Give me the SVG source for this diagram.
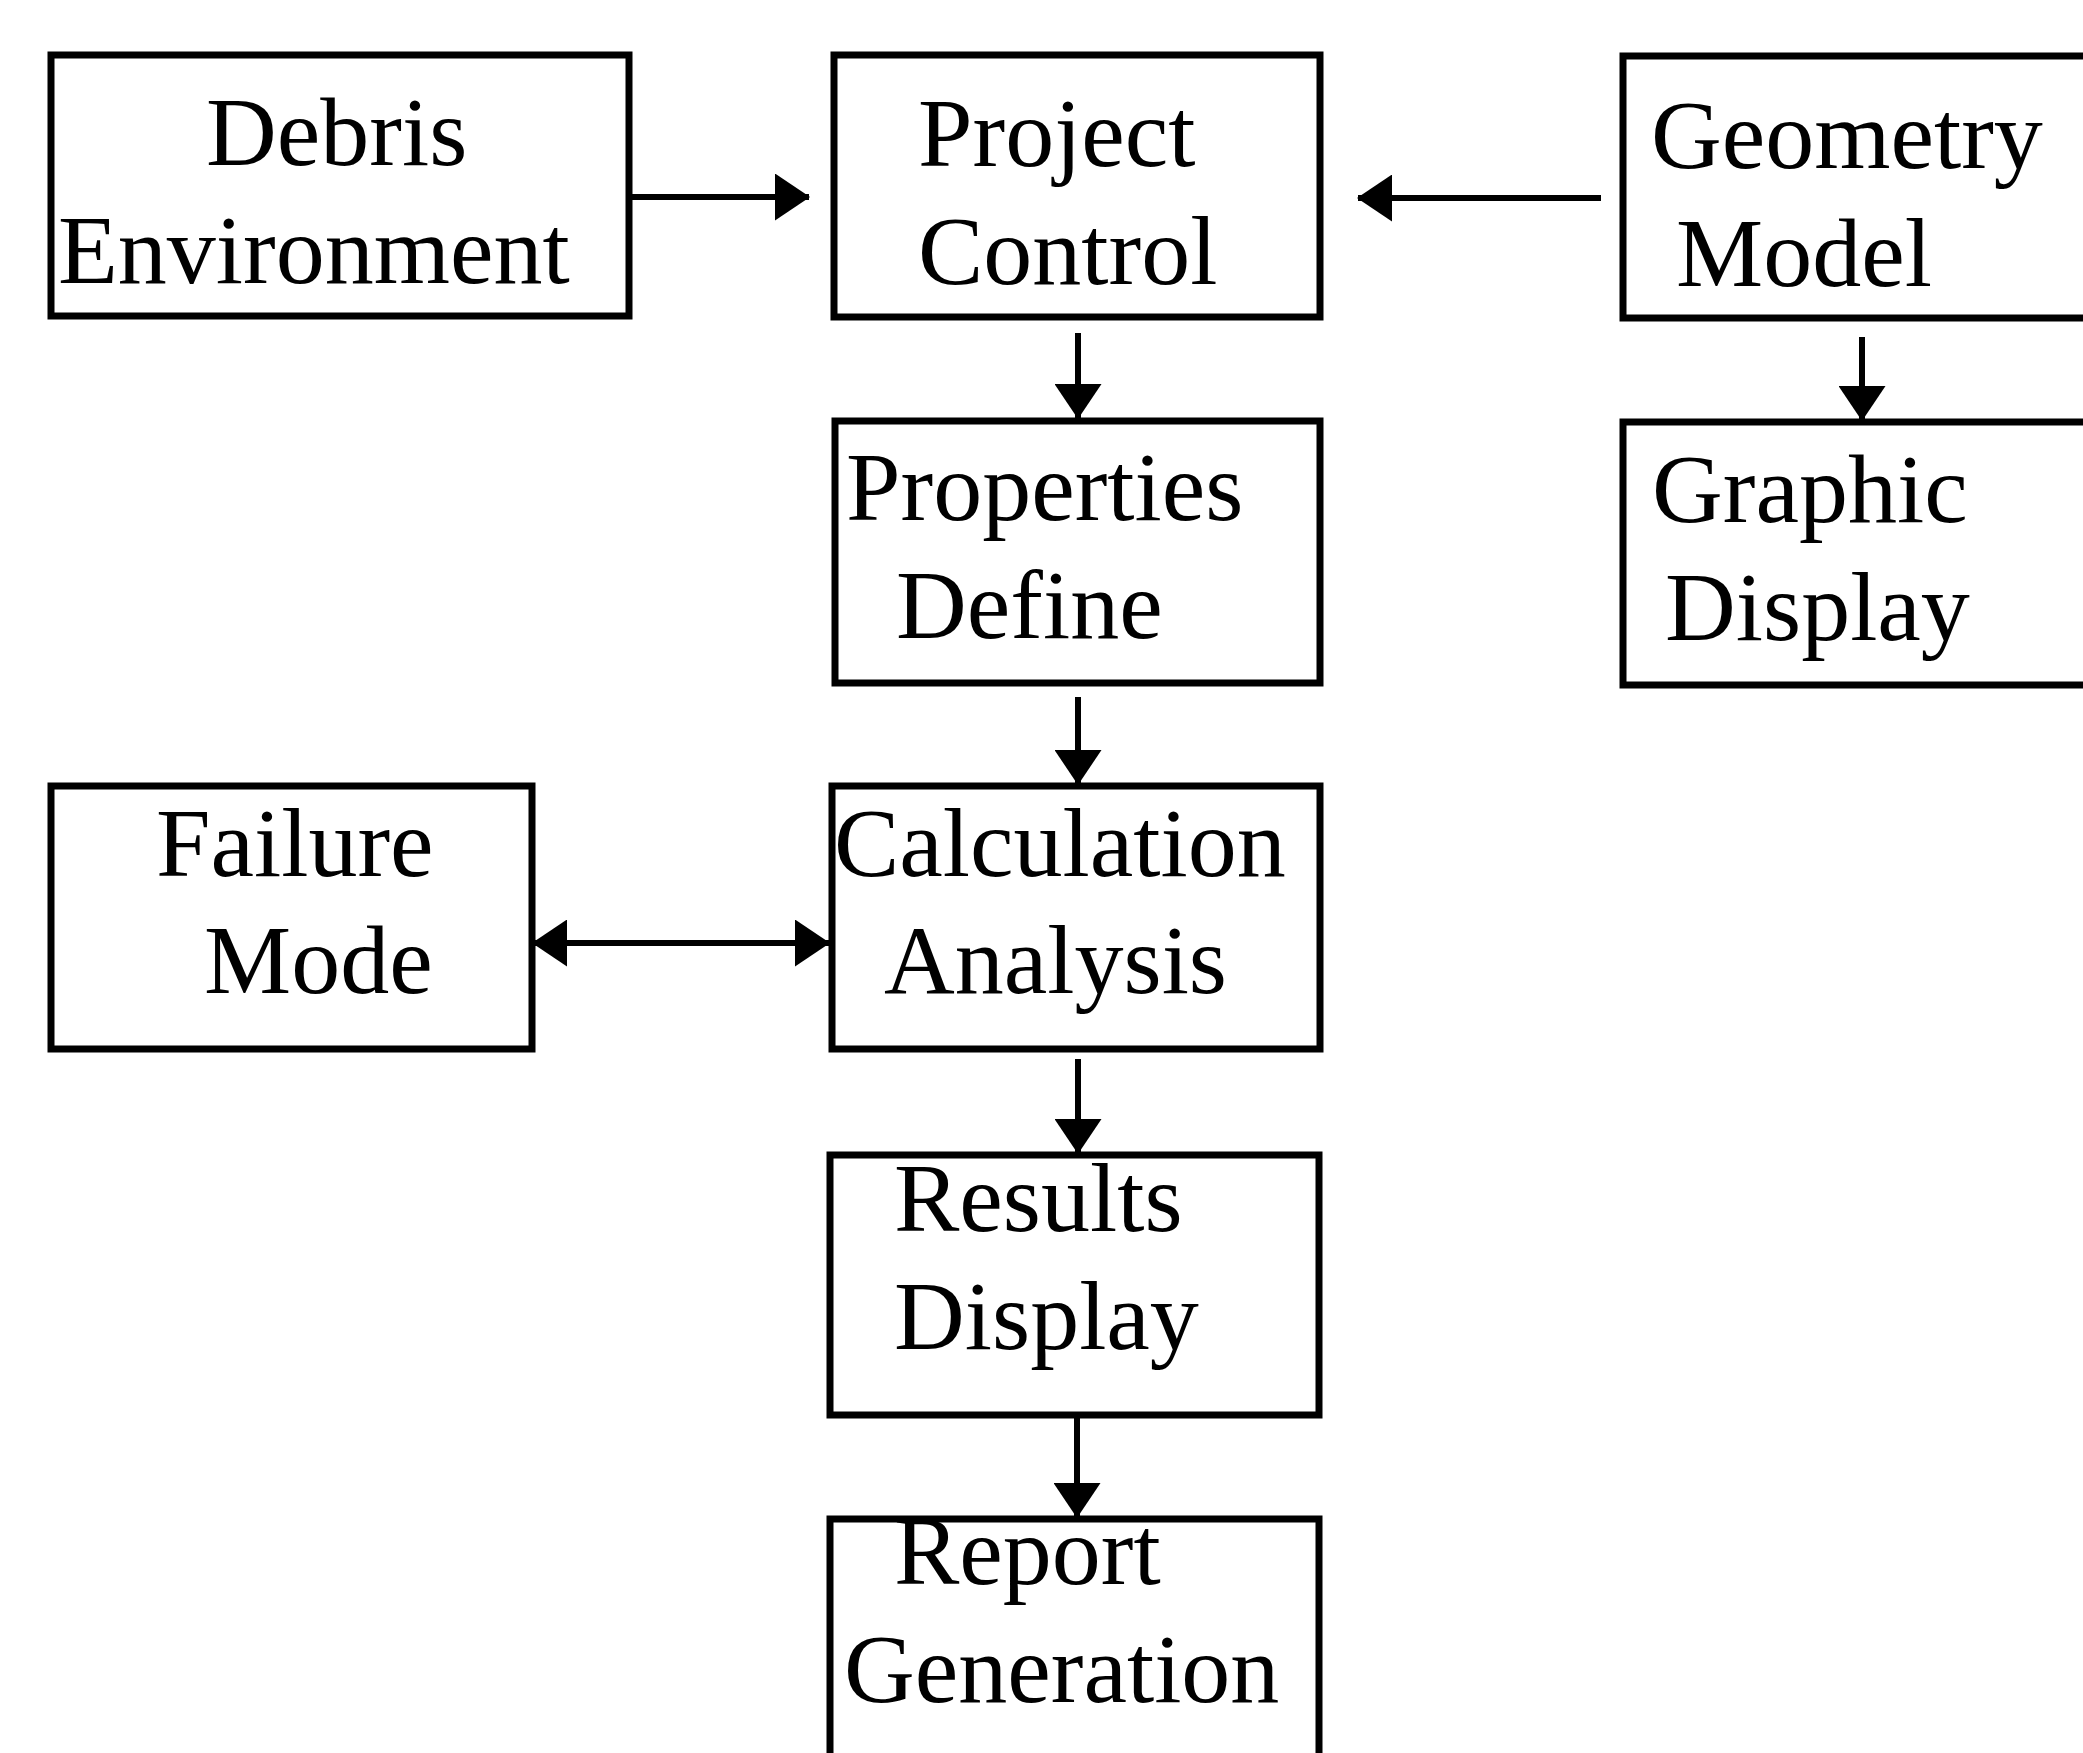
<svg xmlns="http://www.w3.org/2000/svg" width="2083" height="1753" viewBox="0 0 2083 1753">
  <style>
    .box { fill: #ffffff; stroke: #000000; stroke-width: 7; }
    .lbl { font-family: "Liberation Serif", "Times New Roman", serif; font-size: 98px; fill: #000000; }
    .link { fill: none; stroke: #000000; stroke-width: 6; }
    .arrow { marker-end: url(#head); }
    .both { marker-start: url(#head); marker-end: url(#head); }
  </style>
  <defs>
    <marker id="head" viewBox="0 0 35 47" markerWidth="35" markerHeight="47" refX="34" refY="23.5" orient="auto-start-reverse" markerUnits="userSpaceOnUse">
      <path d="M0,0 L35,23.5 L0,47 Z" fill="#000000"/>
    </marker>
  </defs>
  <rect width="2083" height="1753" fill="#ffffff"/>

  <g id="connectors">
    <path class="link arrow" d="M631,197 L809,197"/>
    <path class="link arrow" d="M1601,198 L1358,198"/>
    <path class="link arrow" d="M1078,333 L1078,418"/>
    <path class="link arrow" d="M1862,337 L1862,420"/>
    <path class="link arrow" d="M1078,697 L1078,784"/>
    <path class="link both" d="M533,943 L829,943"/>
    <path class="link arrow" d="M1078,1059 L1078,1153"/>
    <path class="link arrow" d="M1077,1418 L1077,1517"/>
  </g>

  <g id="debris-environment">
    <rect class="box" x="51" y="55" width="578" height="261"/>
    <text class="lbl" x="206" y="165">Debris</text>
    <text class="lbl" x="58" y="283">Environment</text>
  </g>

  <g id="project-control">
    <rect class="box" x="834" y="55" width="486" height="262"/>
    <text class="lbl" x="918" y="166">Project</text>
    <text class="lbl" x="918" y="284">Control</text>
  </g>

  <g id="geometry-model">
    <rect class="box" x="1623" y="56" width="480" height="262"/>
    <text class="lbl" x="1651" y="168">Geometry</text>
    <text class="lbl" x="1676" y="286">Model</text>
  </g>

  <g id="properties-define">
    <rect class="box" x="835" y="421" width="485" height="262"/>
    <text class="lbl" x="846" y="520">Properties</text>
    <text class="lbl" x="896" y="638">Define</text>
  </g>

  <g id="graphic-display">
    <rect class="box" x="1623" y="422" width="480" height="263"/>
    <text class="lbl" x="1652" y="522">Graphic</text>
    <text class="lbl" x="1665" y="640">Display</text>
  </g>

  <g id="failure-mode">
    <rect class="box" x="51" y="786" width="481" height="263"/>
    <text class="lbl" x="156" y="876">Failure</text>
    <text class="lbl" x="204" y="993">Mode</text>
  </g>

  <g id="calculation-analysis">
    <rect class="box" x="832" y="786" width="488" height="263"/>
    <text class="lbl" x="834" y="876">Calculation</text>
    <text class="lbl" x="884" y="993">Analysis</text>
  </g>

  <g id="results-display">
    <rect class="box" x="830" y="1155" width="489" height="260"/>
    <text class="lbl" x="894" y="1231">Results</text>
    <text class="lbl" x="894" y="1349">Display</text>
  </g>

  <g id="report-generation">
    <rect class="box" x="830" y="1519" width="489" height="300"/>
    <text class="lbl" x="894" y="1584">Report</text>
    <text class="lbl" x="844" y="1702">Generation</text>
  </g>
</svg>
